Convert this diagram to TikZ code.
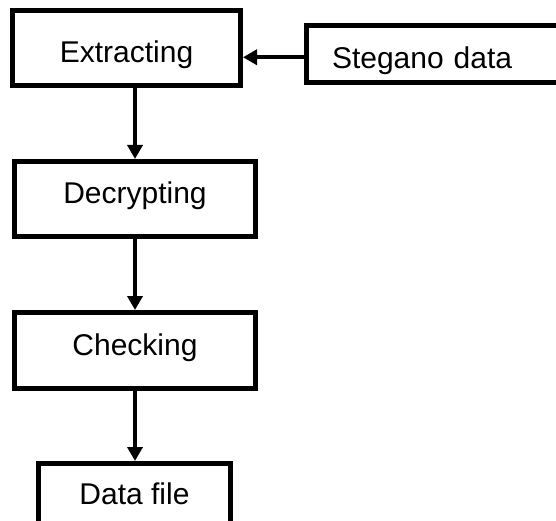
\documentclass[tikz,border=0pt]{standalone}
\usepackage{fontspec}
\setmainfont{Liberation Sans}
\usetikzlibrary{arrows.meta}
\begin{document}
\begin{tikzpicture}[x=1pt,y=-1pt,
  box/.style={draw=black, line width=5pt, fill=white, inner sep=0pt,
    font=\fontsize{30}{36}\selectfont},
  conn/.style={line width=3.5pt, -{Triangle[width=15pt,length=14pt]}}]
\useasboundingbox (0,0) rectangle (556,521);
\clip (0,0) rectangle (556,521);
\node[box, minimum width=228pt, minimum height=75pt, text height=29.1pt, text depth=0pt] (extr) at (126.5,48) {Extracting};
\node[box, minimum width=278.5pt, minimum height=57.5pt, text height=28.6pt, text depth=0pt,
  inner xsep=25.5pt, text width=227.5pt, align=left] (steg) at (445.75,54.25) {Stegano data};
\node[box, minimum width=241pt, minimum height=75pt, text height=21.1pt, text depth=12pt] (decr) at (135,199) {Decrypting};
\node[box, minimum width=241pt, minimum height=76pt, text height=21.1pt, text depth=11pt] (chec) at (135,350.5) {Checking};
\node[box, minimum width=192pt, minimum height=75pt, text height=21.1pt, text depth=14pt] (data) at (134.5,501) {Data file};
\draw[conn] ([yshift=-3pt]steg.west) -- ([yshift=-9.25pt]extr.east);
\draw[conn] (extr.south -| decr.north) -- (decr.north);
\draw[conn] (decr.south) -- (chec.north);
\draw[conn] (chec.south) -- (data.north -| chec.south);
\end{tikzpicture}
\end{document}
